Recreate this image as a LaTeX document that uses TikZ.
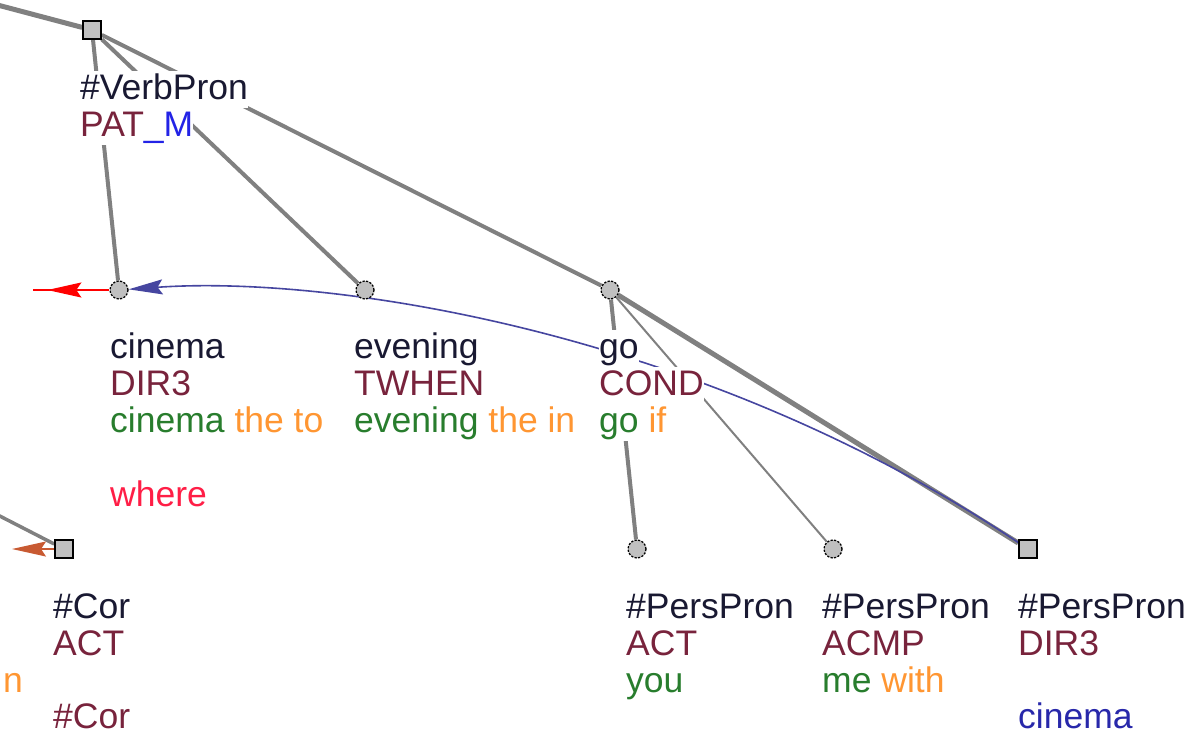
\documentclass[tikz,border=0pt]{standalone}
\usepackage{fontspec}
\setmainfont{Liberation Sans}
\usetikzlibrary{arrows.meta,decorations.markings,backgrounds}
\definecolor{nameC}{RGB}{25,25,50}
\definecolor{funcC}{RGB}{120,35,60}
\definecolor{grnC}{RGB}{40,125,45}
\definecolor{orgC}{RGB}{255,150,50}
\definecolor{whereC}{RGB}{255,30,70}
\definecolor{blueT}{RGB}{40,40,170}
\definecolor{underC}{RGB}{35,35,230}
\definecolor{edgeC}{RGB}{128,128,128}
\definecolor{corefB}{RGB}{70,70,160}
\definecolor{siennaC}{RGB}{200,90,50}
\definecolor{nodeF}{RGB}{192,192,192}
\tikzset{
  sqnode/.style={draw=black, fill=nodeF, line width=1.6pt, minimum size=18pt, inner sep=0pt, rectangle},
  cinode/.style={draw=black, fill=nodeF, line width=1.3pt, dash pattern=on 2.2pt off 1.4pt, circle, minimum size=18pt, inner sep=0pt},
  edge/.style={draw=edgeC, line width=4pt},
  thinedge/.style={draw=edgeC, line width=2pt},
  txt/.style={anchor=base west, inner sep=0pt, fill=white, text height=28pt, text depth=9pt, font=\fontsize{35.5}{37}\selectfont},
  lastrow/.style={text depth=4pt},
  tipA/.style={-{Stealth[length=34pt,width=15pt,inset=5pt]}},
}
\begin{document}
\begin{tikzpicture}[x=1pt,y=-1pt]
\useasboundingbox (0,0) rectangle (1190,734);
% graph nodes
\node[sqnode] (vp) at (92,30) {};
\node[cinode] (cin) at (119,290) {};
\node[cinode] (eve) at (365,290) {};
\node[cinode] (go) at (610,290) {};
\node[sqnode] (cor) at (64,549) {};
\node[cinode] (act) at (637,549) {};
\node[cinode] (acmp) at (833,549) {};
\node[sqnode] (dir) at (1028,549) {};
\coordinate (tl) at (-10,3);
\coordinate (cl) at (-10,511);
\coordinate (redend) at (33,290);
\coordinate (corend) at (12,549);
\begin{pgfonlayer}{background}
\draw[edge, line width=5pt] (tl) -- (vp);
\draw[edge] (vp) -- (cin);
\draw[edge] (vp) -- (eve);
\draw[edge] (vp) -- (go);
\draw[edge, line width=5pt] (go) -- (dir);
\draw[edge] (go) -- (act);
\draw[thinedge] (go) -- (acmp);
\draw[edge, line width=3.5pt] (cl) -- (cor);
\draw[corefB, line width=1.6pt, tipA] (dir) .. controls (700,330) and (330,275) .. (cin);
\draw[red, line width=1.6pt, postaction={decorate},
  decoration={markings, mark=at position 62pt with {\arrow{Stealth[length=34pt,width=15pt,inset=5pt]}}}] (cin) -- (redend);
\draw[siennaC, line width=1.6pt, tipA] (cor) -- (corend);
\end{pgfonlayer}
% labels
\node[txt, text=nameC] (vp1) at (80,99) {\#VerbPron};
\node[txt, text=funcC] (vp2) at (80,136) {PAT\textcolor{underC}{\_M}};
\node[txt, text=nameC] (cin1) at (110,358) {cinema};
\node[txt, text=funcC] (cin2) at (110,395) {DIR3};
\node[txt] (cin3) at (110,432) {\textcolor{grnC}{cinema} \textcolor{orgC}{the to}};
\node[txt, text=whereC] (cin5) at (110,506) {where};
\node[txt, text=nameC] (eve1) at (354,358) {evening};
\node[txt, text=funcC] (eve2) at (354,395) {TWHEN};
\node[txt] (eve3) at (354,432) {\textcolor{grnC}{evening} \textcolor{orgC}{the in}};
\node[txt, text=nameC] (go1) at (599,358) {go};
\node[txt, text=funcC] (go2) at (599,395) {COND};
\node[txt] (go3) at (599,432) {\textcolor{grnC}{go} \textcolor{orgC}{if}};
\node[txt, text=nameC] (cor1) at (53,618) {\#Cor};
\node[txt, text=funcC] (cor2) at (53,655) {ACT};
\node[txt, text=orgC, anchor=base east] (cut3) at (23,692) {n};
\node[txt, lastrow, text=funcC] (cor4) at (53,728) {\#Cor};
\node[txt, text=nameC] (act1) at (626,618) {\#PersPron};
\node[txt, text=funcC] (act2) at (626,655) {ACT};
\node[txt, text=grnC] (act3) at (626,692) {you};
\node[txt, text=nameC] (acmp1) at (822,618) {\#PersPron};
\node[txt, text=funcC] (acmp2) at (822,655) {ACMP};
\node[txt] (acmp3) at (822,692) {\textcolor{grnC}{me} \textcolor{orgC}{with}};
\node[txt, text=nameC] (dir1) at (1018,618) {\#PersPron};
\node[txt, text=funcC] (dir2) at (1018,655) {DIR3};
\node[txt, lastrow, text=blueT] (dir4) at (1018,728) {cinema};
\end{tikzpicture}
\end{document}
